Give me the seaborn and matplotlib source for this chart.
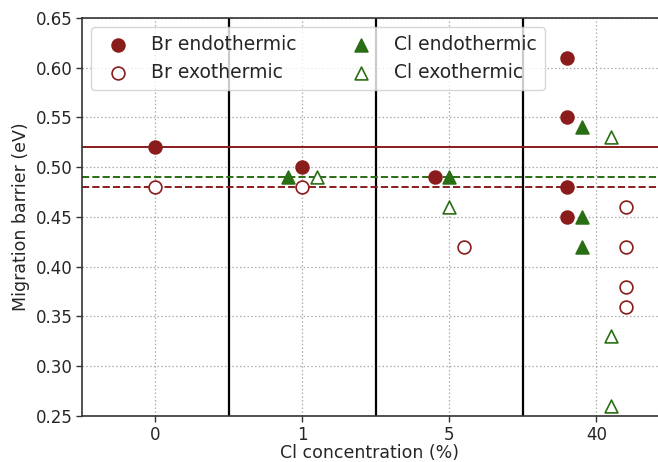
import matplotlib
matplotlib.use("Agg")
import matplotlib.pyplot as plt
import seaborn as sns
import pandas as pd

# categorias do eixo x
concentrations = ["0", "1", "5", "40"]

# valores (eV)
br_endo_conc = ["0", "1", "5", "40", "40", "40", "40"]
br_endo_val = [0.52, 0.50, 0.49, 0.61, 0.55, 0.48, 0.45]

br_exo_conc = ["0", "1", "5", "40", "40", "40", "40"]
br_exo_val = [0.48, 0.48, 0.42, 0.46, 0.42, 0.38, 0.36]

cl_endo_conc = ["1", "5", "40", "40", "40"]
cl_endo_val = [0.49, 0.49, 0.54, 0.45, 0.42]

cl_exo_conc = ["1", "5", "40", "40", "40"]
cl_exo_val = [0.49, 0.46, 0.53, 0.33, 0.26]

# linhas de referencia
br_endo_ref = 0.52
br_exo_ref = 0.48
cl_ref = 0.49

# deslocamento horizontal de cada serie dentro de cada categoria
offsets = {
    "Br endothermic": {"0": 0.0, "1": 0.0, "5": -0.1, "40": -0.2},
    "Br exothermic": {"0": 0.0, "1": 0.0, "5": 0.1, "40": 0.2},
    "Cl endothermic": {"1": -0.1, "5": 0.0, "40": -0.1},
    "Cl exothermic": {"1": 0.1, "5": 0.0, "40": 0.1},
}

sns.set_theme(context="notebook", style="ticks")
plt.rcParams["font.family"] = ["DejaVu Sans"]

red = "#8b1c1c"
green = "#2a6e14"


def make_df(name, conc, vals):
    df = pd.DataFrame({"conc": conc, "value": vals})
    df["x"] = [concentrations.index(c) + offsets[name][c] for c in conc]
    return df


fig = plt.figure(figsize=(6.58, 4.62), dpi=100)
ax = fig.add_axes([0.1246, 0.0996, 0.8754, 0.8615])

ax.grid(True, linestyle=(0, (1.2, 1.8)), color="#aaaaaa", linewidth=0.9)
ax.set_axisbelow(True)

for xv in [0.5, 1.5, 2.5]:
    ax.axvline(xv, color="black", linewidth=1.6, zorder=1)

ax.axhline(br_endo_ref, color=red, linewidth=1.4, zorder=1)
ax.axhline(cl_ref, color=green, linewidth=1.4, linestyle="--", zorder=1)
ax.axhline(br_exo_ref, color=red, linewidth=1.4, linestyle="--", zorder=1)

ms = 85
sns.scatterplot(data=make_df("Br endothermic", br_endo_conc, br_endo_val), x="x", y="value",
                marker="o", s=ms, color=red, edgecolor=red, linewidth=1.2,
                label="Br endothermic", ax=ax, zorder=3)
sns.scatterplot(data=make_df("Br exothermic", br_exo_conc, br_exo_val), x="x", y="value",
                marker="o", s=ms, facecolor="white", edgecolor=red, linewidth=1.2,
                label="Br exothermic", ax=ax, zorder=3)
sns.scatterplot(data=make_df("Cl endothermic", cl_endo_conc, cl_endo_val), x="x", y="value",
                marker="^", s=ms, color=green, edgecolor=green, linewidth=1.2,
                label="Cl endothermic", ax=ax, zorder=3)
sns.scatterplot(data=make_df("Cl exothermic", cl_exo_conc, cl_exo_val), x="x", y="value",
                marker="^", s=ms, facecolor="white", edgecolor=green, linewidth=1.2,
                label="Cl exothermic", ax=ax, zorder=3)

ax.set_xticks(range(len(concentrations)))
ax.set_xticklabels(concentrations)
ax.set_xlim(-0.5, 3.42)
ax.set_ylim(0.25, 0.65)
ax.set_yticks([0.25, 0.30, 0.35, 0.40, 0.45, 0.50, 0.55, 0.60, 0.65])
ax.set_yticklabels([f"{v:.2f}" for v in ax.get_yticks()])
ax.tick_params(labelsize=12, length=4, width=1, color="#333333", pad=3)
for sp in ["left", "bottom", "top"]:
    ax.spines[sp].set_color("#333333")
    ax.spines[sp].set_linewidth(1.2)
ax.spines["right"].set_visible(False)

ax.set_xlabel("Cl concentration (%)", fontsize=12.5, labelpad=0)
ax.set_ylabel("Migration barrier (eV)", fontsize=12.5, labelpad=4)

ax.legend(loc="upper left", bbox_to_anchor=(0.0, 1.0), ncol=2, fontsize=13.5,
          frameon=True, handletextpad=0.8, columnspacing=2.4, borderpad=0.4,
          labelspacing=0.5, markerscale=1.0)

fig.savefig("out.png", dpi=100)
